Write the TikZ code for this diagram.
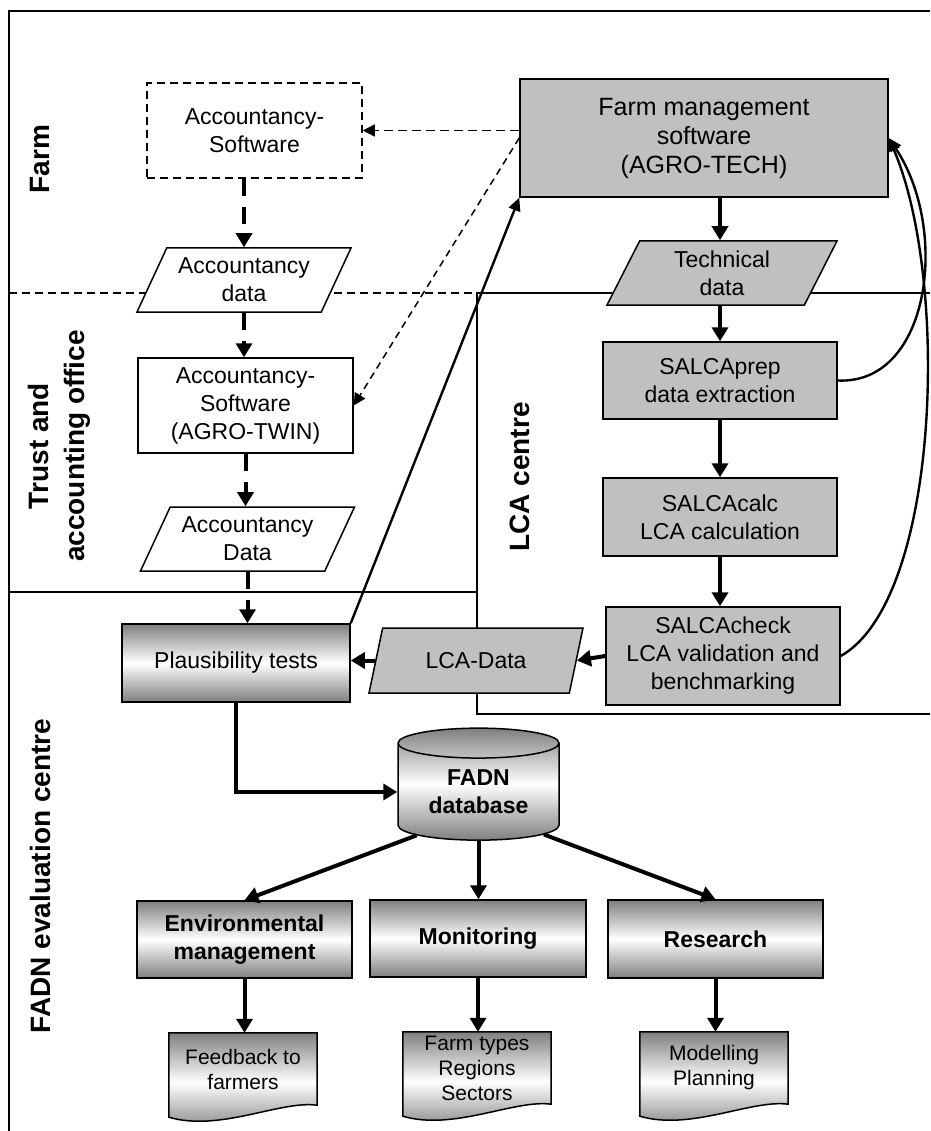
\documentclass[tikz,border=0pt]{standalone}
\usepackage{fontspec}
\setmainfont{Liberation Sans}
\usetikzlibrary{shapes.geometric,arrows.meta,backgrounds,calc}
\definecolor{silver}{HTML}{C0C0C0}
\definecolor{shadegray}{HTML}{7F7F7F}

\begin{document}
\begin{tikzpicture}[x=1pt, y=-1pt,
    box/.style={draw, line width=1.5pt, fill=white, align=center, inner sep=0pt,
        font=\fontsize{23}{28}\selectfont},
    graybox/.style={box, fill=silver},
    shadebox/.style={box, top color=shadegray, bottom color=shadegray, middle color=white},
    boldbox/.style={shadebox, font=\bfseries\fontsize{23}{28}\selectfont},
    datashape/.style 2 args={trapezium, trapezium left angle=#1,
        trapezium right angle=#2, trapezium stretches body},
    docnode/.style={align=center, inner sep=0pt, minimum width=148pt,
        minimum height=72pt, font=\fontsize{21}{25}\selectfont},
    docshade/.style={draw, line width=1.5pt, top color=shadegray,
        bottom color=shadegray, middle color=white},
    lane/.style={rotate=90, align=center, font=\bfseries\fontsize{28}{36}\selectfont},
    region/.style={line width=1.5pt},
    flow/.style={line width=4pt, -{Triangle[length=14pt, width=16pt]}},
    dashflow/.style={flow, dash pattern=on 17pt off 11pt},
    link/.style={line width=2.4pt, -{Triangle[length=13pt, width=12pt]}},
    dashlink/.style={line width=1.5pt, dash pattern=on 9pt off 5pt,
        -{Triangle[length=12pt, width=12pt]}}
]
    \useasboundingbox (0,0) rectangle (930,1131);

    % Lanes
        \draw [region] (9,1131) -- (9,11) -- (930,11);
        \draw [region, dash pattern=on 8pt off 5pt] (9,293) -- (477,293);
        \draw [region] (930,293) -- (477,293) -- (477,714) -- (930,714);
        \draw [region] (9,592) -- (477,592);

        \node [lane] (farmlbl) at (40,159) {Farm};
        \node [lane] (trustlbl) at (59,446) {Trust and\\accounting office};
        \node [lane] (lcalbl) at (520,477) {LCA centre};
        \node [lane] (fadnlbl) at (40,876) {FADN evaluation centre};

    % Farm
        %% accountancy side
        \node [box, dash pattern=on 8pt off 5pt, minimum width=215pt, minimum height=95pt]
            (accsoft1) at (254.5,130.5) {Accountancy-\\Software};
        \node [box, datashape={56}{124}, minimum width=214pt, minimum height=64pt]
            (accdata1) at (244,280) {Accountancy\\data};

        %% management side
        \node [graybox, minimum width=368pt, minimum height=118pt,
            font=\fontsize{25}{29}\selectfont]
            (farmsw) at (704,138) {Farm management\\software\\(AGRO-TECH)};
        \node [graybox, datashape={54}{126}, minimum width=230pt, minimum height=64pt]
            (techdata) at (722,273) {Technical\\data};

    % Trust and accounting office
        \node [box, minimum width=215pt, minimum height=95pt]
            (accsoft2) at (245.5,405.5) {Accountancy-\\Software\\(AGRO-TWIN)};
        \node [box, datashape={56}{124}, minimum width=214pt, minimum height=64pt]
            (accdata2) at (247.5,539) {Accountancy\\Data};

    % LCA centre
        \node [graybox, minimum width=234pt, minimum height=77pt]
            (prep) at (720,380.5) {SALCAprep\\data extraction};
        \node [graybox, minimum width=234pt, minimum height=78pt]
            (calc) at (720,517) {SALCAcalc\\LCA calculation};
        \node [graybox, minimum width=234pt, minimum height=98pt]
            (check) at (723,656) {SALCAcheck\\LCA validation and\\benchmarking};
        \node [graybox, datashape={50}{130}, minimum width=214pt, minimum height=65pt]
            (lcadata) at (476,660.5) {LCA-Data};

    % FADN evaluation centre
        \node [shadebox, minimum width=228pt, minimum height=78pt]
            (plaus) at (236,663) {Plausibility tests};
        \node [cylinder, shape border rotate=90, aspect=0.3, draw, line width=1.5pt,
            top color=shadegray, bottom color=shadegray, middle color=white,
            minimum width=161pt, minimum height=112pt, inner sep=0pt, align=center,
            font=\bfseries\fontsize{23}{28}\selectfont]
            (fadndb) at (478.5,792) {FADN\\database};

        \node [boldbox, minimum width=215pt, minimum height=77pt]
            (env) at (244.5,939.5) {Environmental\\management};
        \node [boldbox, minimum width=216pt, minimum height=77pt]
            (monit) at (478,938.5) {Monitoring};
        \node [boldbox, minimum width=215pt, minimum height=78pt]
            (research) at (715.5,939) {Research};

        %% documents
        \node [docnode] (fb) at (243,1069) {Feedback to\\farmers};
        \node [docnode] (ft) at (477,1068) {Farm types\\Regions\\Sectors};
        \node [docnode] (mp) at (714,1068) {Modelling\\Planning};
        \begin{scope}[on background layer]
            \foreach \d in {fb,ft,mp}
                \path [docshade] (\d.north west) -- (\d.north east) -- (\d.south east)
                    .. controls ($(\d.south east)+(-37,-5)$) and ($(\d.south west)+(51,27)$)
                    .. ($(\d.south west)+(0,12)$) -- cycle;
        \end{scope}

    % Connectors
        %% accountancy chain
        \draw [dashflow] (accsoft1.south -| accdata1.north) -- (accdata1.north);
        \draw [dashflow] (accdata1.south) -- (accdata1.south |- accsoft2.north);
        \draw [dashflow] (accsoft2.south) -- (accsoft2.south |- accdata2.north);
        \draw [dashflow] (accdata2.south) -- (accdata2.south |- plaus.north);

        %% farm management software
        \draw [dashlink] (accsoft1.east -| farmsw.west) -- (accsoft1.east);
        \draw [dashlink, dash pattern=on 7pt off 5pt] (farmsw.west) -- (accsoft2.east);
        \draw [link] (plaus.north east) -- (farmsw.south west);
        \draw [flow] (farmsw.south -| prep.north) -- (techdata.north -| prep.north);

        %% LCA chain
        \draw [flow] (techdata.south -| prep.north) -- (prep.north);
        \draw [flow] (prep.south) -- (calc.north);
        \draw [flow] (calc.south) -- (calc.south |- check.north);
        \draw [flow] (check.west) -- (lcadata.east);
        \draw [flow] (lcadata.west) -- (lcadata.west -| plaus.east);
        \draw [link] (prep.east) .. controls (930,385) and (950,230) .. (farmsw.east);
        \draw [link] (check.east) .. controls (940,600) and (950,280) .. (farmsw.east);

        %% database
        \draw [flow] (plaus.south) |- (fadndb.west);
        \draw [flow] (fadndb.215) -- (env.north);
        \draw [flow] (fadndb.south) -- (fadndb.south |- monit.north);
        \draw [flow] (fadndb.327) -- (research.north);
        \draw [flow] (env.south) -- (env.south |- fb.north);
        \draw [flow] (monit.south) -- (monit.south |- ft.north);
        \draw [flow] (research.south) -- (research.south |- mp.north);

\end{tikzpicture}
\end{document}
